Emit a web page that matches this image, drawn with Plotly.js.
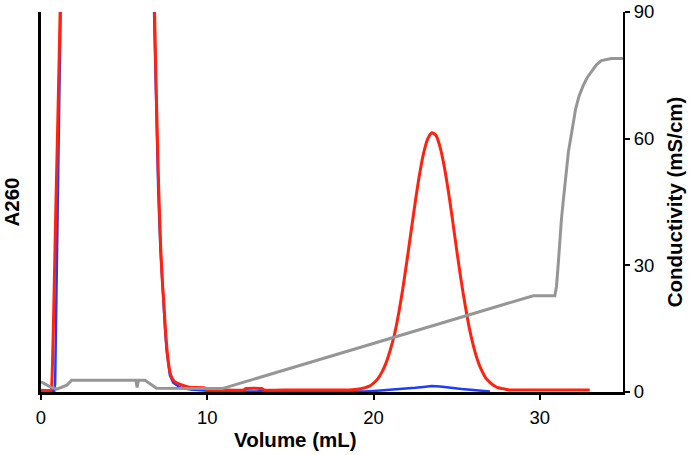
<!DOCTYPE html>
<html>
<head>
<meta charset="utf-8">
<script src="https://cdn.plot.ly/plotly-3.0.1.min.js"></script>
<style>
  html, body { margin: 0; padding: 0; background: #fff; }
  #chart { width: 693px; height: 455px; }
</style>
</head>
<body>
<div id="chart"></div>
<script>
// ---- Data ----
// A260 trace 1 (red)
const redVolume = [0, 0.6, 0.65, 0.9, 1.15, 1.2, 6.75, 6.83, 6.95, 7.08, 7.2, 7.3, 7.38, 7.48, 7.58, 7.68, 7.8, 8.0, 8.5, 9.0, 9.8, 10.0, 11.0, 12.2, 12.3, 13.3, 13.4, 15, 17, 18.5,
  19.0, 19.25, 19.5, 19.75, 20.0, 20.25, 20.5, 20.75, 21.0, 21.25, 21.5, 21.75, 22.0, 22.25, 22.5, 22.75, 23.0, 23.25, 23.5, 23.75,
  24.0, 24.25, 24.5, 24.75, 25.0, 25.25, 25.5, 25.75, 26.0, 26.25, 26.5, 26.75, 27.0, 27.25, 27.5, 27.75, 28.0, 28.3, 30, 33];
const redA260 = [0.4, 0.5, 2, 45, 90, 110, 110, 90, 68, 48, 34, 26, 21.6, 15, 10, 6.5, 4, 2.6, 1.6, 1.1, 1.0, 0.6, 0.5, 0.5, 0.8, 0.8, 0.5, 0.5, 0.5, 0.5,
  0.66, 0.8, 1.05, 1.4, 2.1, 3.1, 4.7, 6.9, 9.9, 13.5, 18.4, 24.3, 30.9, 37.9, 44.8, 51.2, 56.4, 59.9, 61.4, 60.8,
  58.0, 53.4, 47.5, 40.7, 33.6, 26.8, 20.7, 15.3, 11.0, 7.6, 5.1, 3.3, 2.3, 1.5, 1.0, 0.8, 0.6, 0.5, 0.5, 0.5];

// A260 trace 2 (blue)
const blueVolume = [0, 0.8, 0.85, 1.0, 1.2, 1.25, 6.75, 6.8, 6.93, 7.05, 7.18, 7.28, 7.36, 7.46, 7.55, 7.65, 7.75, 7.95, 8.4, 9.0, 10.0, 12.0, 12.2, 13.0, 13.3, 15.0, 19.5, 20.2, 21.0, 21.8, 22.5, 23.0, 23.5, 24.0, 24.6, 25.3, 26.0, 26.5, 27.0];
const blueA260 = [0.3, 0.3, 2, 40, 90, 110, 110, 90, 68, 48, 34, 26, 21.6, 15, 10, 6.5, 4, 2.2, 1.0, 0.6, 0.3, 0.3, 0.1, 0.1, 0.3, 0.3, 0.1, 0.3, 0.5, 0.7, 1.0, 1.2, 1.4, 1.3, 1.0, 0.7, 0.5, 0.3, 0.1];

// Conductivity (grey)
const condVolume = [0, 0.55, 0.95, 1.55, 1.85, 5.7, 5.78, 5.86, 6.25, 6.95, 10.9, 29.6, 30.9, 31.0, 31.1, 31.2, 31.3, 31.4, 31.5, 31.6, 31.72, 31.85, 32.0, 32.15, 32.35, 32.6, 32.85, 33.1, 33.4, 33.7, 34.0, 34.3, 35.0];
const conductivity = [2.4, 1.2, 0.7, 1.6, 2.8, 2.8, 1.1, 2.8, 2.8, 0.9, 0.8, 22.8, 22.8, 25, 30, 36, 41, 45, 49, 53, 57, 60, 64, 67, 70, 72.5, 74.5, 76, 77.5, 78.5, 78.8, 79, 79];

const xTicks = [0, 10, 20, 30];
const condTicks = [0, 30, 60, 90];

// ---- Chart ----
const traces = [
  { x: blueVolume, y: blueA260, type: 'scatter', mode: 'lines', yaxis: 'y',
    line: { color: 'rgb(30,60,255)', width: 2.5 }, hoverinfo: 'skip' },
  { x: redVolume, y: redA260, type: 'scatter', mode: 'lines', yaxis: 'y',
    line: { color: 'rgb(255,35,15)', width: 3, shape: 'spline', smoothing: 0.6 }, hoverinfo: 'skip' },
  { x: condVolume, y: conductivity, type: 'scatter', mode: 'lines', yaxis: 'y2',
    line: { color: 'rgb(150,150,150)', width: 3 }, hoverinfo: 'skip' }
];

const tickFont = { family: 'Liberation Sans, Arial, sans-serif', size: 18.5, color: '#000' };
const titleFont = { family: 'Liberation Sans, Arial, sans-serif', size: 20.5, color: '#000' };

const layout = {
  width: 693, height: 455,
  margin: { l: 41, r: 70, t: 12, b: 63, pad: 0 },
  paper_bgcolor: '#fff', plot_bgcolor: '#fff',
  showlegend: false,
  font: tickFont,
  xaxis: {
    range: [0, 35], tickvals: xTicks, ticktext: xTicks.map(String),
    ticks: 'outside', ticklen: 5, tickwidth: 2, tickcolor: '#000',
    ticklabelstandoff: 2,
    showline: true, linecolor: '#000', linewidth: 3,
    showgrid: false, zeroline: false, tickfont: tickFont, automargin: false
  },
  yaxis: {
    range: [0, 90], showticklabels: false, ticks: '',
    showline: true, linecolor: '#000', linewidth: 3,
    showgrid: false, zeroline: false, automargin: false,
    title: { text: '<b>A260</b>', font: titleFont, standoff: 20 }
  },
  yaxis2: {
    overlaying: 'y', side: 'right', range: [0, 90],
    tickvals: condTicks, ticktext: condTicks.map(String),
    ticks: 'outside', ticklen: 5, tickwidth: 2, tickcolor: '#000',
    ticklabeloverflow: 'allow',
    showline: true, linecolor: '#000', linewidth: 2,
    showgrid: false, zeroline: false, tickfont: tickFont, automargin: false,
    title: { text: '<b>Conductivity (mS/cm)</b>', font: titleFont, standoff: 14 }
  },
  annotations: [{
    text: '<b>Volume (mL)</b>', font: titleFont, showarrow: false,
    xref: 'paper', yref: 'paper', x: 0.438, y: -0.125,
    xanchor: 'center', yanchor: 'middle'
  }]
};

Plotly.newPlot('chart', traces, layout, { staticPlot: true, displayModeBar: false });
</script>
</body>
</html>
